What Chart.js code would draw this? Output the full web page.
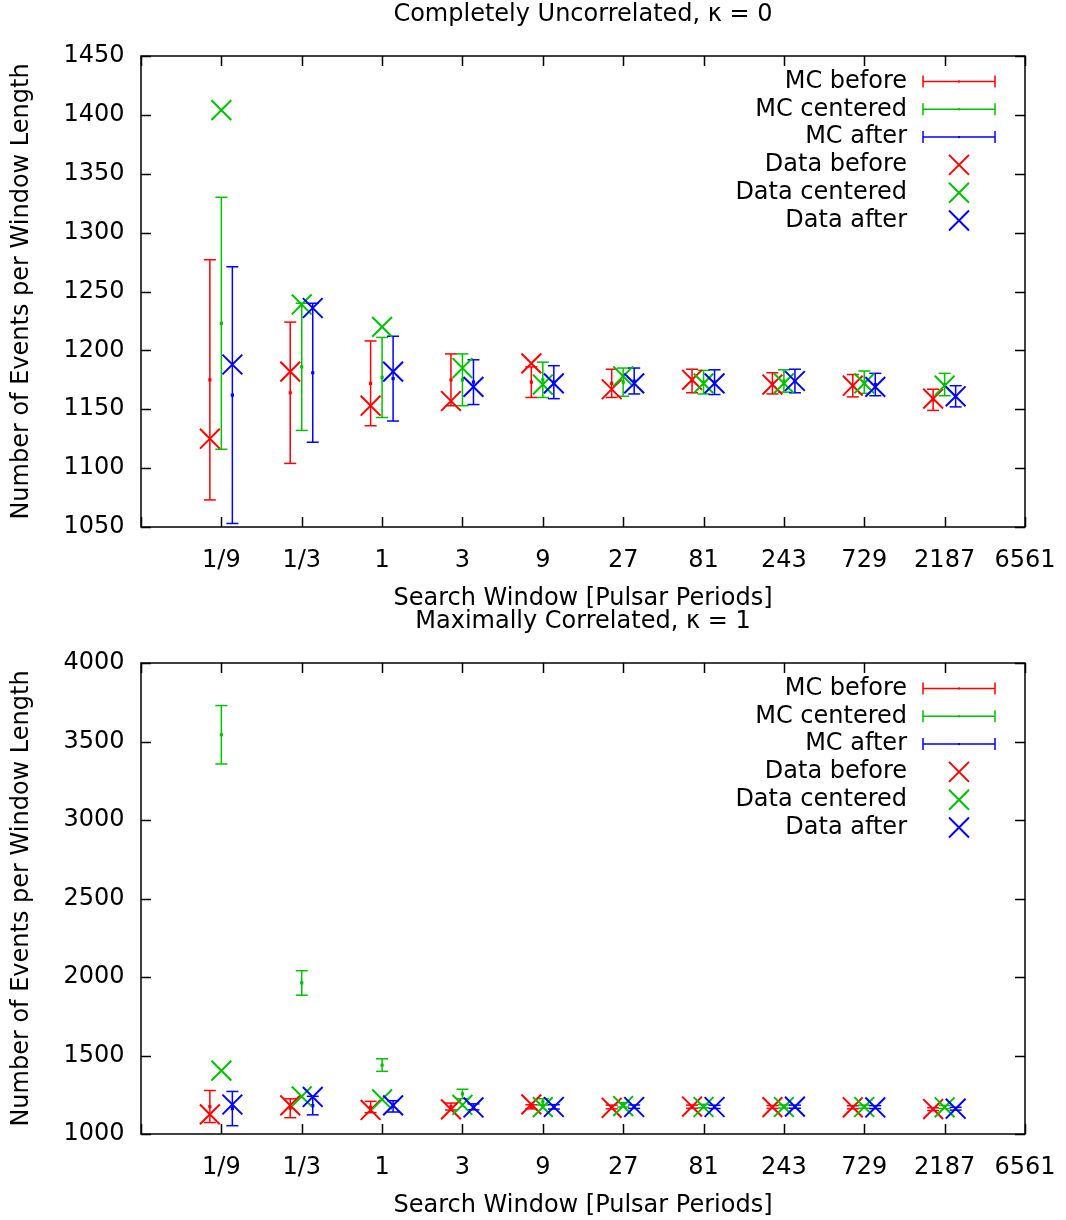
<!DOCTYPE html>
<html>
<head>
<meta charset="utf-8">
<script src="https://cdn.jsdelivr.net/npm/chart.js@4.4.1/dist/chart.umd.min.js"></script>
<style>
  body { margin: 0; background: #fff; }
  .panel { position: absolute; left: 0; width: 1066px; height: 614px; }
</style>
</head>
<body>
<div class="panel" style="top:0"><canvas id="uncorrChart"></canvas></div>
<div class="panel" style="top:607px"><canvas id="corrChart"></canvas></div>
<script>
// search windows in pulsar periods, and the labels on the x axis
const windows = [1/9, 1/3, 1, 3, 9, 27, 81, 243, 729, 2187];
const windowLabels = ['1/9', '1/3', '1', '3', '9', '27', '81', '243', '729', '2187', '6561'];
const seriesNames = ['MC before', 'MC centered', 'MC after', 'Data before', 'Data centered', 'Data after'];

// Monte Carlo means and half widths
const mcBefore = [1175, 1164, 1172, 1175, 1173, 1172, 1174, 1172, 1170, 1158];
const mcBeforeErr = [102, 60, 36, 22, 13, 12, 10, 9, 9.5, 9];
const mcAfter = [1162, 1181, 1176, 1173, 1173, 1174, 1173, 1174, 1171, 1161];
const mcAfterErr = [109, 59, 36, 19, 14, 11, 10.5, 10, 9.5, 9];
const mcCentered0 = [1223, 1186, 1177, 1175, 1175, 1173, 1173, 1174, 1173, 1171];
const mcCentered0Err = [107, 54, 34, 22, 15, 12, 10, 9.5, 9.5, 9.5];
const mcCentered1 = [3543, 1962, 1439, 1255, 1205, 1186, 1178, 1175, 1174, 1172];
const mcCentered1Err = [186, 78, 40, 30, 20, 14, 11, 10, 10, 10];

// observed counts
const dataBefore = [1125, 1182, 1153, 1157, 1189, 1167, 1175, 1171, 1170, 1159];
const dataCentered = [1404, 1239, 1220, 1185, 1171, 1178, 1172, 1172, 1172, 1170];
const dataAfter = [1188, 1236, 1182, 1169, 1172, 1172, 1172, 1174, 1169, 1161];

const colors = ['#ff0000', '#00c000', '#0000ff'];
const shifts = [-0.143, 0, 0.137];
const FONT = 'DejaVu Sans';

Chart.defaults.font.family = FONT;
Chart.defaults.font.size = 24;
Chart.defaults.color = '#000';

const log3 = w => Math.log(w) / Math.log(3);

function barPoints(means, errs, shift) {
    const pts = [];
    means.forEach((m, i) => {
        const x = log3(windows[i]) + shift;
        pts.push({x: x, y: m - errs[i], cap: true});
        pts.push({x: x, y: m, cap: false});
        pts.push({x: x, y: m + errs[i], cap: true});
        pts.push({x: x, y: null});
    });
    return pts;
}

function markPoints(values, shift) {
    return values.map((v, i) => ({x: log3(windows[i]) + shift, y: v}));
}

// gnuplot style border, inward ticks, title and key
const gnuFrame = {
    id: 'gnuFrame',
    beforeDatasetsDraw(chart) {
        const ctx = chart.ctx;
        const a = chart.chartArea;
        const xs = chart.scales.x, ys = chart.scales.y;
        ctx.save();
        ctx.strokeStyle = '#000';
        ctx.lineWidth = 1.5;
        ctx.strokeRect(a.left, a.top, a.right - a.left, a.bottom - a.top);
        ctx.beginPath();
        xs.ticks.forEach(t => {
            const px = Math.round(xs.getPixelForValue(t.value)) + 0.5;
            ctx.moveTo(px, a.bottom); ctx.lineTo(px, a.bottom - 10);
            ctx.moveTo(px, a.top); ctx.lineTo(px, a.top + 10);
        });
        ys.ticks.forEach(t => {
            const py = Math.round(ys.getPixelForValue(t.value)) + 0.5;
            ctx.moveTo(a.left, py); ctx.lineTo(a.left + 10, py);
            ctx.moveTo(a.right, py); ctx.lineTo(a.right - 10, py);
        });
        ctx.stroke();
        ctx.restore();
    },
    afterDraw(chart) {
        const ctx = chart.ctx;
        const a = chart.chartArea;
        ctx.save();
        ctx.font = '24px "' + FONT + '"';
        ctx.fillStyle = '#000';
        ctx.textAlign = 'center';
        ctx.textBaseline = 'middle';
        ctx.fillText(chart.options.plugins.gnuFrame.title, (a.left + a.right) / 2, 15);

        ctx.textAlign = 'right';
        seriesNames.forEach((name, i) => {
            const y = a.top + 25.5 + i * 27.8;
            const c = colors[i % 3];
            ctx.fillStyle = '#000';
            ctx.fillText(name, a.right - 118, y);
            ctx.strokeStyle = c;
            ctx.fillStyle = c;
            const cx = a.right - 66;
            ctx.beginPath();
            if (i < 3) {
                ctx.lineWidth = 1.5;
                ctx.moveTo(a.right - 102, y); ctx.lineTo(a.right - 30, y);
                ctx.moveTo(a.right - 102, y - 6); ctx.lineTo(a.right - 102, y + 6);
                ctx.moveTo(a.right - 30, y - 6); ctx.lineTo(a.right - 30, y + 6);
                ctx.stroke();
                ctx.fillRect(cx - 1, y - 1, 2, 2);
            } else {
                ctx.lineWidth = 2;
                ctx.moveTo(cx - 10, y - 10); ctx.lineTo(cx + 10, y + 10);
                ctx.moveTo(cx + 10, y - 10); ctx.lineTo(cx - 10, y + 10);
                ctx.stroke();
            }
        });
        ctx.restore();
    }
};

function makeChart(id, title, yMin, yMax, yStep, centered, centeredErr) {
    const bars = [
        barPoints(mcBefore, mcBeforeErr, shifts[0]),
        barPoints(centered, centeredErr, shifts[1]),
        barPoints(mcAfter, mcAfterErr, shifts[2])
    ];
    const marks = [
        markPoints(dataBefore, shifts[0]),
        markPoints(dataCentered, shifts[1]),
        markPoints(dataAfter, shifts[2])
    ];
    const datasets = [];
    bars.forEach((d, i) => {
        datasets.push({
            label: seriesNames[i],
            data: d,
            showLine: true,
            spanGaps: false,
            borderColor: colors[i],
            backgroundColor: colors[i],
            borderWidth: 1.5,
            pointBorderWidth: 1.5,
            pointStyle: c => (c.raw && c.raw.cap) ? 'line' : 'rect',
            pointRadius: c => (c.raw && c.raw.cap) ? 6 : 1.2,
            order: 6 - i
        });
    });
    marks.forEach((d, i) => {
        datasets.push({
            label: seriesNames[i + 3],
            data: d,
            showLine: false,
            borderColor: colors[i],
            backgroundColor: colors[i],
            pointStyle: 'crossRot',
            pointRadius: 14,
            pointBorderWidth: 2,
            order: 3 - i
        });
    });

    return new Chart(document.getElementById(id).getContext('2d'), {
        type: 'scatter',
        data: { datasets: datasets },
        options: {
            responsive: true,
            maintainAspectRatio: false,
            animation: false,
            layout: { padding: { left: 0, right: 41, top: 56, bottom: 0 } },
            plugins: {
                legend: { display: false },
                tooltip: { enabled: false },
                title: { display: false },
                gnuFrame: { title: title }
            },
            scales: {
                x: {
                    type: 'linear',
                    min: -3,
                    max: 8,
                    grid: { display: false, drawTicks: false },
                    border: { display: false },
                    ticks: {
                        stepSize: 1,
                        padding: 19,
                        maxRotation: 0,
                        callback: v => windowLabels[Math.round(v) + 2] || ''
                    },
                    title: {
                        display: true,
                        text: 'Search Window [Pulsar Periods]',
                        padding: { top: 0, bottom: 0.5 }
                    },
                    afterFit: s => {
                        s.height = 87;
                        s.paddingLeft = 0;
                        s.paddingRight = 0;
                    }
                },
                y: {
                    min: yMin,
                    max: yMax,
                    grid: { display: false, drawTicks: false },
                    border: { display: false },
                    ticks: { stepSize: yStep, padding: 16.5, callback: v => String(v) },
                    title: {
                        display: true,
                        text: 'Number of Events per Window Length',
                        padding: { top: 7.5, bottom: 0 }
                    },
                    afterFit: s => {
                        s.width = 141;
                        s.paddingTop = 0;
                        s.paddingBottom = 0;
                    }
                }
            }
        },
        plugins: [gnuFrame]
    });
}

makeChart('uncorrChart', 'Completely Uncorrelated, κ = 0', 1050, 1450, 50, mcCentered0, mcCentered0Err);
makeChart('corrChart', 'Maximally Correlated, κ = 1', 1000, 4000, 500, mcCentered1, mcCentered1Err);
</script>
</body>
</html>
